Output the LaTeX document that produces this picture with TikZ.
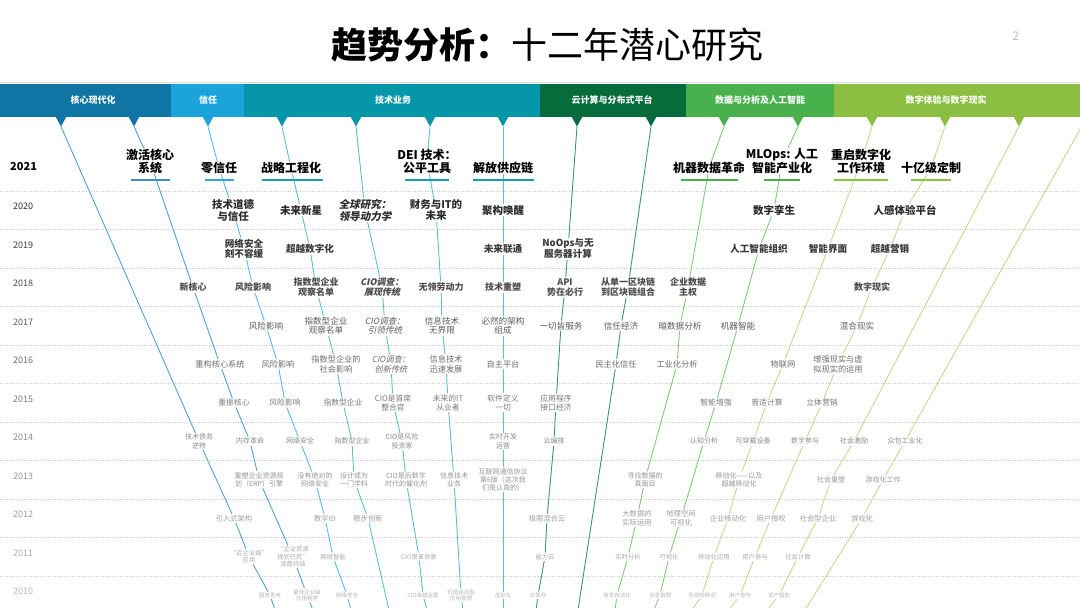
\documentclass[tikz,border=0pt]{standalone}
\usepackage{fontspec}
\setmainfont{Noto Sans CJK SC}[AutoFakeSlant=0.2]
\newfontfamily\slfont{Noto Sans CJK SC}[FakeSlant=0.2, BoldFeatures={FakeSlant=0.2}]
\usetikzlibrary{calc}
\pgfdeclarelayer{bg}
\pgfsetlayers{bg,main}
\definecolor{hA}{HTML}{0E75A5}
\definecolor{hB}{HTML}{1BA4DC}
\definecolor{hC}{HTML}{0597A9}
\definecolor{hD}{HTML}{066C3B}
\definecolor{hE}{HTML}{48B14B}
\definecolor{hF}{HTML}{8BBE41}
\definecolor{lA}{HTML}{4AA3D3}
\definecolor{lB}{HTML}{52BDE8}
\definecolor{lC}{HTML}{55C2CE}
\definecolor{lD}{HTML}{3C9669}
\definecolor{lE}{HTML}{7FCB76}
\definecolor{lF}{HTML}{BADF8A}
\definecolor{uA}{HTML}{3D8FC6}
\definecolor{uB}{HTML}{2AA9E0}
\definecolor{uC}{HTML}{13A0B0}
\definecolor{uE}{HTML}{46B04A}
\definecolor{uF}{HTML}{8CC63F}
\definecolor{t1}{HTML}{2B2B2B}
\definecolor{t2}{HTML}{3A3A3A}
\definecolor{t3}{HTML}{4A4A4A}
\definecolor{t4}{HTML}{5C5C5C}
\definecolor{t5}{HTML}{6C6C6C}
\definecolor{t6}{HTML}{7C7C7C}
\definecolor{t7}{HTML}{8C8C8C}
\definecolor{t8}{HTML}{969696}
\definecolor{t9}{HTML}{9E9E9E}
\definecolor{t10}{HTML}{ABABAB}
\definecolor{t11}{HTML}{B6B6B6}
\definecolor{sep}{HTML}{C8C8C8}
\tikzset{
  lbl/.style={fill=white, inner xsep=1.5pt, inner ysep=1pt, align=center},
  r0/.style={lbl, inner ysep=0pt, anchor=south, text=black, font=\fontsize{12}{12.8}\selectfont\bfseries},
  r1/.style={lbl, text=t1, font=\fontsize{10.5}{11.5}\selectfont\bfseries},
  r2/.style={lbl, text=t2, font=\fontsize{9.6}{10.8}\selectfont\bfseries},
  r3/.style={lbl, text=t3, font=\fontsize{9}{10.2}\selectfont\bfseries},
  r4/.style={lbl, text=t4, font=\fontsize{8.6}{9.8}\selectfont},
  r5/.style={lbl, text=t5, font=\fontsize{8.2}{9.4}\selectfont},
  r6/.style={lbl, text=t6, font=\fontsize{7.8}{9}\selectfont},
  r7/.style={lbl, text=t7, font=\fontsize{7}{8.2}\selectfont},
  r8/.style={lbl, text=t8, font=\fontsize{7}{8}\selectfont},
  r9/.style={lbl, text=t9, font=\fontsize{7.3}{8.4}\selectfont},
  r10/.style={lbl, text=t10, font=\fontsize{6.3}{7.3}\selectfont},
  r11/.style={lbl, text=t11, font=\fontsize{5.5}{6.5}\selectfont},
  hdr/.style={text=white, font=\fontsize{9}{10}\selectfont\bfseries},
  yr/.style={anchor=west, inner sep=0pt, font=\fontsize{9}{10}\selectfont},
  thr/.style={line width=0.9pt},
  ul/.style={line width=2.6pt},
}
\begin{document}
\begin{tikzpicture}[x=1pt,y=-1pt]
\useasboundingbox (0,0) rectangle (1080,608);

% title and page number
\node[font=\fontsize{36}{40}\selectfont, inner sep=0pt] (title) at (547,45) {\bfseries 趋势分析：\mdseries 十二年潜心研究};
\node[text=black!25, font=\fontsize{12}{14}\selectfont] (pg) at (1016,36) {2};

% header bar
\draw[black!12, line width=0.8pt] (0,82.6) -- (1080,82.6);
\fill[hA] (0,84) rectangle (171,117);
\fill[hB] (171,84) rectangle (244,117);
\fill[hC] (244,84) rectangle (540,117);
\fill[hD] (540,84) rectangle (686,117);
\fill[hE] (686,84) rectangle (834,117);
\fill[hF] (834,84) rectangle (1080,117);
\node[hdr] (hdA) at (93,100) {核心现代化};
\node[hdr] (hdB) at (208,100) {信任};
\node[hdr] (hdC) at (393,100) {技术业务};
\node[hdr] (hdD) at (612,100) {云计算与分布式平台};
\node[hdr] (hdE) at (760,100) {数据与分析及人工智能};
\node[hdr] (hdF) at (946,100) {数字体验与数字现实};

\foreach \i/\x/\c in {1/61/hA,2/134/hA,3/208/hB,4/282/hC,5/356/hC,6/430/hC,7/503/hC,8/577/hD,9/651/hD,10/724/hE,11/798/hE,12/872/hF,13/945/hF,14/1019/hF}{
  \coordinate (p\i) at (\x,126.5);
  \fill[\c] (\x-5.5,116.5) -- (\x+5.5,116.5) -- (p\i) -- cycle;
}

% separators and year labels
\begin{pgfonlayer}{bg}
\foreach \k in {0,...,10}{
  \draw[sep, line width=0.6pt, dash pattern=on 0.8pt off 1.6pt] (0,191+38.5*\k) -- (1080,191+38.5*\k);
}
\end{pgfonlayer}
\node[yr, font=\fontsize{11}{12}\selectfont\bfseries] (y2021) at (10,167) {2021};
\foreach \yy/\r/\c in {2020/1/t1,2019/2/t2,2018/3/t3,2017/4/t4,2016/5/t5,2015/6/t6,2014/7/t7,2013/8/t8,2012/9/t9,2011/10/t10,2010/11/t11}{
  \node[yr, text=\c] (y\yy) at (13,206.75+38.5*\r-38.5) {\yy};
}

% 2021
\node[r0] (n0a) at (150,174) {激活核心\\系统};
\node[r0] (n0b) at (219,174) {零信任};
\node[r0] (n0c) at (291,174) {战略工程化};
\node[r0] (n0d) at (427,174) {DEI 技术：\\公平工具};
\node[r0] (n0e) at (503,174) {解放供应链};
\node[r0] (n0f) at (709,174) {机器数据革命};
\node[r0] (n0g) at (782,174) {MLOps: 人工\\智能产业化};
\node[r0] (n0h) at (861,174) {重启数字化\\工作环境};
\node[r0] (n0i) at (931,174) {十亿级定制};
\draw[ul, uA] (131,180) -- (170,180);
\draw[ul, uB] (205,180) -- (234,180);
\draw[ul, uC] (262,180) -- (323,180);
\draw[ul, uC] (405,180) -- (449,180);
\draw[ul, uC] (473,180) -- (534,180);
\draw[ul, uE] (681,180) -- (738,180);
\draw[ul, uE] (764,180) -- (800,180);
\draw[ul, uF] (834,180) -- (888,180);
\draw[ul, uF] (911,180) -- (951,180);

% 2020
\node[r1] (r1a) at (233,210.25) {技术道德\\与信任};
\node[r1] (r1b) at (301,210.25) {未来新星};
\node[r1] (r1c) at (365,210.25) {\slfont 全球研究：\\\slfont 领导动力学};
\node[r1] (r1d) at (436,210.25) {财务与IT的\\未来};
\node[r1] (r1e) at (503,210.25) {聚构唤醒};
\node[r1] (r1f) at (774,210.25) {数字孪生};
\node[r1] (r1g) at (905,210.25) {人感体验平台};

% 2019
\node[r2] (r2a) at (244,248.75) {网络安全\\刻不容缓};
\node[r2] (r2b) at (310,248.75) {超越数字化};
\node[r2] (r2c) at (503,248.75) {未来联通};
\node[r2] (r2d) at (568,248.75) {NoOps与无\\服务器计算};
\node[r2] (r2e) at (759,248.75) {人工智能组织};
\node[r2] (r2f) at (828,248.75) {智能界面};
\node[r2] (r2g) at (890,248.75) {超越营销};

% 2018
\node[r3] (r3a) at (193,287.25) {新核心};
\node[r3] (r3b) at (253,287.25) {风险影响};
\node[r3] (r3c) at (316,287.25) {指数型企业\\观察名单};
\node[r3] (r3d) at (382,287.25) {\slfont CIO调查：\\\slfont 展现传统};
\node[r3] (r3e) at (441,287.25) {无领劳动力};
\node[r3] (r3f) at (503,287.25) {技术重塑};
\node[r3] (r3g) at (565,287.25) {API\\势在必行};
\node[r3] (r3h) at (628,287.25) {从单一区块链\\到区块链组合};
\node[r3] (r3i) at (688,287.25) {企业数据\\主权};
\node[r3] (r3j) at (872,287.25) {数字现实};

% 2017
\node[r4] (r4a) at (266,325.75) {风险影响};
\node[r4] (r4b) at (326,325.75) {指数型企业\\观察名单};
\node[r4] (r4c) at (385,325.75) {\slfont CIO调查：\\\slfont 引领传统};
\node[r4] (r4d) at (442,325.75) {信息技术\\无界限};
\node[r4] (r4e) at (503,325.75) {必然的架构\\组成};
\node[r4] (r4f) at (561,325.75) {一切皆服务};
\node[r4] (r4g) at (621,325.75) {信任经济};
\node[r4] (r4h) at (680,325.75) {暗数据分析};
\node[r4] (r4i) at (738,325.75) {机器智能};
\node[r4] (r4j) at (857,325.75) {混合现实};

% 2016
\node[r5] (r5a) at (220,364.25) {重构核心系统};
\node[r5] (r5b) at (278,364.25) {风险影响};
\node[r5] (r5c) at (336,364.25) {指数型企业的\\社会影响};
\node[r5] (r5d) at (391,364.25) {\slfont CIO调查：\\\slfont 创新传统};
\node[r5] (r5e) at (446,364.25) {信息技术\\迅速发展};
\node[r5] (r5f) at (503,364.25) {自主平台};
\node[r5] (r5g) at (616,364.25) {民主化信任};
\node[r5] (r5h) at (677,364.25) {工业化分析};
\node[r5] (r5i) at (783,364.25) {物联网};
\node[r5] (r5j) at (838,364.25) {增强现实与虚\\拟现实的运用};

% 2015
\node[r6] (r6a) at (234,402.75) {重振核心};
\node[r6] (r6b) at (285,402.75) {风险影响};
\node[r6] (r6c) at (343,402.75) {指数型企业};
\node[r6] (r6d) at (393,402.75) {CIO是首席\\整合官};
\node[r6] (r6e) at (448,402.75) {未来的IT\\从业者};
\node[r6] (r6f) at (503,402.75) {软件定义\\一切};
\node[r6] (r6g) at (556,402.75) {应用程序\\接口经济};
\node[r6] (r6h) at (716,402.75) {智能增强};
\node[r6] (r6i) at (767,402.75) {普适计算};
\node[r6] (r6j) at (822,402.75) {立体营销};

% 2014
\node[r7] (r7a) at (199,441.25) {技术债务\\逆转};
\node[r7] (r7b) at (250,441.25) {内存革命};
\node[r7] (r7c) at (300,441.25) {网络安全};
\node[r7] (r7d) at (352,441.25) {指数型企业};
\node[r7] (r7e) at (402,441.25) {CIO是风险\\投资家};
\node[r7] (r7f) at (503,441.25) {实时开发\\运营};
\node[r7] (r7g) at (554,441.25) {云编排};
\node[r7] (r7h) at (704,441.25) {认知分析};
\node[r7] (r7i) at (753,441.25) {可穿戴设备};
\node[r7] (r7j) at (805,441.25) {数字参与};
\node[r7] (r7k) at (854,441.25) {社会激励};
\node[r7] (r7l) at (905,441.25) {众包工业化};

% 2013
\node[r8] (r8a) at (259,479.75) {重塑企业资源规\\划（ERP）引擎};
\node[r8] (r8b) at (315,479.75) {没有绝对的\\网络安全};
\node[r8] (r8c) at (354,479.75) {设计成为\\一门学科};
\node[r8] (r8d) at (406,479.75) {CIO是后数字\\时代的催化剂};
\node[r8] (r8e) at (454,479.75) {信息技术\\业务};
\node[r8] (r8f) at (503,479.75) {互联网通信协议\\第6版（这次我\\们是认真的）};
\node[r8] (r8g) at (645,479.75) {寻找数据的\\真面目};
\node[r8] (r8h) at (739,479.75) {移动化——以及\\超越移动化};
\node[r8] (r8i) at (831,479.75) {社会重塑};
\node[r8] (r8j) at (883,479.75) {游戏化工作};

% 2012
\node[r9] (r9a) at (234,518.25) {引入式架构};
\node[r9] (r9b) at (325,518.25) {数字ID};
\node[r9] (r9c) at (368,518.25) {稳步创新};
\node[r9] (r9d) at (547,518.25) {极限混合云};
\node[r9] (r9e) at (637,518.25) {大数据的\\实际运用};
\node[r9] (r9f) at (681,518.25) {地理空间\\可视化};
\node[r9] (r9g) at (728,518.25) {企业移动化};
\node[r9] (r9h) at (771,518.25) {用户授权};
\node[r9] (r9i) at (818,518.25) {社会型企业};
\node[r9] (r9j) at (862,518.25) {游戏化};

% 2011
\node[r10] (r10a) at (249,556.75) {“近企业级”\\应用};
\node[r10] (r10b) at (293,556.75) {“企业资源\\规划已死”\\滚盘终结};
\node[r10] (r10c) at (333,556.75) {网络智能};
\node[r10] (r10d) at (419,556.75) {CIO是革命家};
\node[r10] (r10e) at (545,556.75) {能力云};
\node[r10] (r10f) at (628,556.75) {实时分析};
\node[r10] (r10g) at (669,556.75) {可视化};
\node[r10] (r10h) at (714,556.75) {移动化应用};
\node[r10] (r10i) at (755,556.75) {用户参与};
\node[r10] (r10j) at (798,556.75) {社会计算};

% 2010
\node[r11] (r11a) at (270,595.25) {服务思考};
\node[r11] (r11b) at (307,595.25) {最佳企业级\\应用程序};
\node[r11] (r11c) at (347,595.25) {网络安全};
\node[r11] (r11d) at (423,595.25) {CIO卓越运营};
\node[r11] (r11e) at (461,595.25) {价值驱动型\\应用管理};
\node[r11] (r11f) at (503,595.25) {虚拟化};
\node[r11] (r11g) at (538,595.25) {云革命};
\node[r11] (r11h) at (617,595.25) {信息自动化};
\node[r11] (r11i) at (660,595.25) {信息管理};
\node[r11] (r11j) at (702,595.25) {无线和移动};
\node[r11] (r11k) at (740,595.25) {用户参与};
\node[r11] (r11l) at (779,595.25) {资产智能};

% free ends
\coordinate (b1) at (275,610);
\coordinate (b2) at (313,610);
\coordinate (b3) at (351,610);
\coordinate (b4) at (389,610);
\coordinate (b5) at (427,610);
\coordinate (b6) at (463,610);
\coordinate (b7) at (503,610);
\coordinate (b8) at (536,610);
\coordinate (b9) at (578,610);
\coordinate (b10) at (615,610);
\coordinate (b11) at (654,610);
\coordinate (b12) at (692,610);
\coordinate (b13) at (729,610);
\coordinate (b14) at (767,610);
\coordinate (b15) at (805,610);
\coordinate (t15) at (1082,126);

% threads
\begin{pgfonlayer}{bg}
\draw[thr, lA] (p1) -- (r7a) -- (r9a) -- (r10a) -- (r11a) -- (b1);
\draw[thr, lA] (p2) -- (n0a) -- (r3a) -- (r5a) -- (r6a) -- (r7b) -- (r8a) -- (r10b) -- (r11b) -- (b2);
\draw[thr, lB] (p3) -- (n0b) -- (r1a) -- (r2a) -- (r3b) -- (r4a) -- (r5b) -- (r6b) -- (r7c) -- (r8b) -- (r9b) -- (r10c) -- (r11c) -- (b3);
\draw[thr, lC] (p4) -- (n0c) -- (r1b) -- (r2b) -- (r3c) -- (r4b) -- (r5c) -- (r6c) -- (r7d) -- (r8c) -- (r9c) -- (b4);
\draw[thr, lC] (p5) -- (r1c) -- (r3d) -- (r4c) -- (r5d) -- (r6d) -- (r7e) -- (r8d) -- (r10d) -- (r11d) -- (b5);
\draw[thr, lC] (p6) -- (n0d) -- (r1d) -- (r3e) -- (r4d) -- (r5e) -- (r6e) -- (r8e) -- (r11e) -- (b6);
\draw[thr, lC] (p7) -- (n0e) -- (r1e) -- (r2c) -- (r3f) -- (r4e) -- (r5f) -- (r6f) -- (r7f) -- (r8f) -- (r11f) -- (b7);
\draw[thr, lD] (p8) -- (r2d) -- (r3g) -- (r4f) -- (r6g) -- (r7g) -- (r9d) -- (r10e) -- (r11g) -- (b8);
\draw[thr, lD] (p9) -- (r3h) -- (r4g) -- (r5g) -- (b9);
\draw[thr, lE] (p10) -- (n0f) -- (r3i) -- (r4h) -- (r5h) -- (r8g) -- (r9e) -- (r10f) -- (r11h) -- (b10);
\draw[thr, lE] (p11) -- (n0g) -- (r1f) -- (r2e) -- (r4i) -- (r6h) -- (r7h) -- (r9f) -- (r10g) -- (r11i) -- (b11);
\draw[thr, lF] (p12) -- (n0h) -- (r2f) -- (r5i) -- (r6i) -- (r7i) -- (r8h) -- (r9g) -- (r10h) -- (r11j) -- (b12);
\draw[thr, lF] (p13) -- (n0i) -- (r1g) -- (r2g) -- (r3j) -- (r4j) -- (r5j) -- (r6j) -- (r7j) -- (r9h) -- (r10i) -- (r11k) -- (b13);
\draw[thr, lF] (p14) -- (r7k) -- (r8i) -- (r9i) -- (r10j) -- (r11l) -- (b14);
\draw[thr, lF] (t15) -- (r7l) -- (r8j) -- (r9j) -- (b15);
\end{pgfonlayer}
\end{tikzpicture}
\end{document}
